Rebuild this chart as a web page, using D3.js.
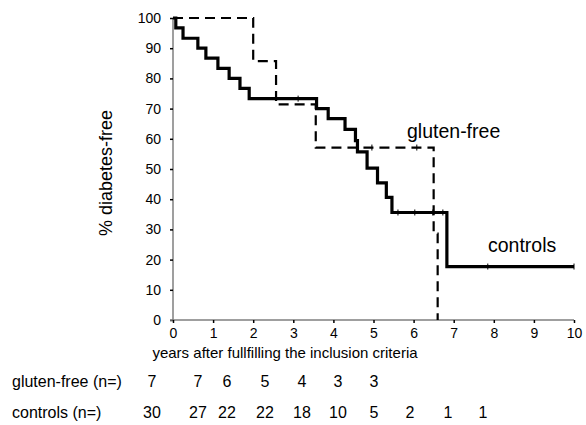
<!DOCTYPE html>
<html>
<head>
<meta charset="utf-8">
<script src="https://cdn.jsdelivr.net/npm/d3@7"></script>
<style>
  body { margin: 0; background: #fff; }
  svg { display: block; font-family: Arial, 'Liberation Sans', sans-serif; }
</style>
</head>
<body>
<div id="container"></div>
<script>
const xTicks = [0, 1, 2, 3, 4, 5, 6, 7, 8, 9, 10];
const yTicks = [0, 10, 20, 30, 40, 50, 60, 70, 80, 90, 100];

// controls: step times (years) and % diabetes-free after each step
const controlsTime = [0, 0.07, 0.25, 0.62, 0.82, 1.12, 1.4, 1.67, 1.9, 3.58, 3.87, 4.29, 4.55, 4.6, 4.84, 5.1, 5.32, 5.46, 6.83, 10];
const controlsSurv = [100, 96.7, 93.3, 90, 86.7, 83.3, 80, 76.7, 73.3, 70, 66.7, 63.1, 59.4, 55.7, 50.3, 45.4, 40.6, 35.6, 17.7, 17.7];
const controlsCensor = [[3.12, 73.3], [5.61, 35.6], [6.03, 35.6], [6.48, 35.6], [6.73, 35.6], [7.85, 17.7], [10, 17.7]];

// gluten-free
const glutenTime = [0, 2.0, 2.57, 3.56, 6.5, 6.6];
const glutenSurv = [100, 85.7, 71.4, 57.1, 28.6, 0];
const glutenCensor = [[4.96, 57.1], [6.08, 57.1]];

// numbers at risk
const riskRows = ['gluten-free (n=)', 'controls (n=)'];
const glutenRisk = [7, 7, 6, 5, 4, 3, 3];
const controlsRisk = [30, 27, 22, 22, 18, 10, 5, 2, 1, 1];

const width = 586; const height = 425;
const svg = d3.select('#container').append('svg')
    .attr('width', width)
    .attr('height', height);

const x = d3.scaleLinear().domain([0, 10]).range([173, 574]);
const y = d3.scaleLinear().domain([0, 100]).range([320, 18]);

// axes
const yAxis = svg.append('g').attr('transform', 'translate(' + x(0) + ',0)')
    .call(d3.axisLeft(y).tickValues(yTicks).tickSize(3).tickPadding(9));
const xAxis = svg.append('g').attr('transform', 'translate(0,' + y(0) + ')')
    .call(d3.axisBottom(x).tickValues(xTicks).tickSize(3).tickPadding(5));

[yAxis, xAxis].forEach((a) => {
  a.select('.domain').attr('stroke', '#7f7f7f').attr('stroke-width', 1.5);
  a.selectAll('.tick line').attr('stroke', '#000').attr('stroke-width', 1.5);
  a.selectAll('.tick text').attr('font-size', 14).attr('fill', '#000')
      .style('font-family', 'Arial, \'Liberation Sans\', sans-serif');
});
yAxis.select('.domain').attr('d', 'M0,' + y(0) + 'V' + y(100));
xAxis.select('.domain').attr('d', 'M' + (x(0) - 3) + ',0H' + x(10));

const stepLine = d3.line()
    .x((d) => x(d[0]))
    .y((d) => y(d[1]))
    .curve(d3.curveStepAfter);

const glutenPts = glutenTime.map((t, i) => [t, glutenSurv[i]]);
const controlsPts = controlsTime.map((t, i) => [t, controlsSurv[i]]);

svg.append('path').datum(glutenPts)
    .attr('d', stepLine)
    .attr('fill', 'none')
    .attr('stroke', '#000')
    .attr('stroke-width', 2.2)
    .attr('stroke-dasharray', '10,6');

svg.append('path').datum(controlsPts)
    .attr('d', stepLine)
    .attr('fill', 'none')
    .attr('stroke', '#000')
    .attr('stroke-width', 3.2);

// censor marks
const censors = svg.append('g').attr('stroke', '#000').attr('stroke-width', 1);
censors.selectAll('.c1').data(controlsCensor).enter().append('line')
    .attr('x1', (d) => x(d[0])).attr('x2', (d) => x(d[0]))
    .attr('y1', (d) => y(d[1]) - 3).attr('y2', (d) => y(d[1]) + 3);
censors.selectAll('.c2').data(glutenCensor).enter().append('line')
    .attr('x1', (d) => x(d[0])).attr('x2', (d) => x(d[0]))
    .attr('y1', (d) => y(d[1]) - 3).attr('y2', (d) => y(d[1]) + 3);

// series labels
svg.append('text').attr('x', 407).attr('y', 138).attr('font-size', 19.5).text('gluten-free');
svg.append('text').attr('x', 488).attr('y', 252).attr('font-size', 19.5).text('controls');

// axis titles
svg.append('text')
    .attr('transform', 'translate(112,173) rotate(-90)')
    .attr('text-anchor', 'middle')
    .attr('font-size', 18)
    .text('% diabetes-free');
svg.append('text')
    .attr('x', 285).attr('y', 358)
    .attr('text-anchor', 'middle')
    .attr('font-size', 15)
    .text('years after fullfilling the inclusion criteria');

// numbers at risk table
const colX = [152, 198, 227, 265, 302, 338, 374, 410, 448, 483];
const rowY = [387, 418];
const table = svg.append('g').attr('font-size', 16);
table.selectAll('.rl').data(riskRows).enter().append('text')
    .attr('x', 12).attr('y', (d, i) => rowY[i])
    .text((d) => d);
[glutenRisk, controlsRisk].forEach((row, r) => {
  table.selectAll('.n' + r).data(row).enter().append('text')
      .attr('x', (d, i) => colX[i]).attr('y', rowY[r])
      .attr('text-anchor', 'middle')
      .text((d) => d);
});
</script>
</body>
</html>
